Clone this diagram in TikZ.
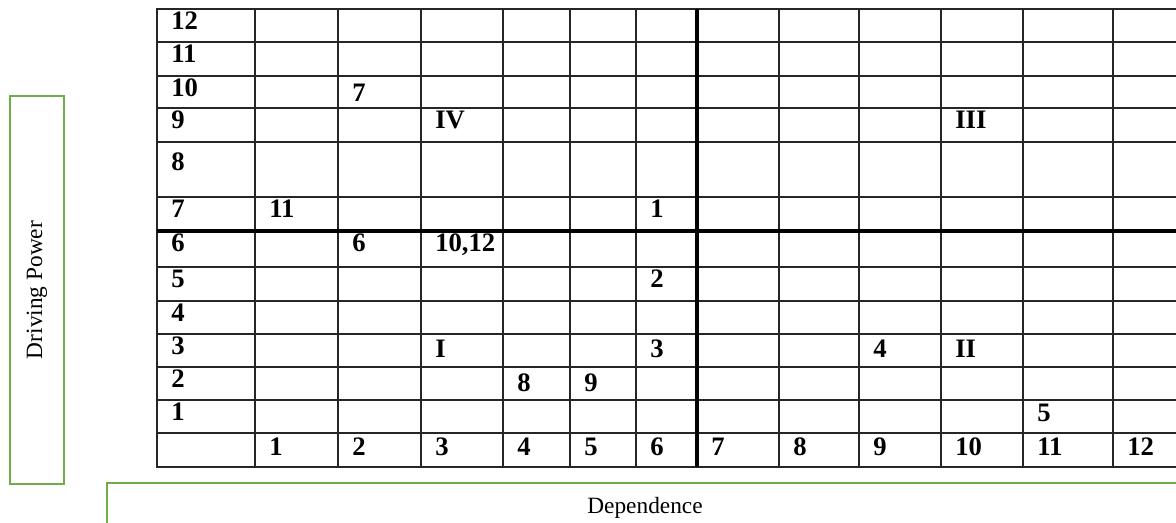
\documentclass[tikz,border=0pt]{standalone}
\usepackage{fontspec}
\setmainfont{Liberation Serif}
\definecolor{boxgreen}{RGB}{112,173,71}
\begin{document}
\begin{tikzpicture}[x=0.75pt,y=-0.75pt,
  thingrid/.style={line width=0.8pt, draw=black!85},
  thickgrid/.style={line width=2.4pt, draw=black},
  outer/.style={line width=1.2pt, draw=black!85},
  cell/.style={anchor=base west, inner sep=0pt, font=\fontsize{20}{20}\selectfont\bfseries},
  greenbox/.style={draw=boxgreen, line width=1.6pt},
  axislabel/.style={inner sep=0pt, font=\fontsize{17.5}{17.5}\selectfont}]
\useasboundingbox (0,0) rectangle (1176,522);
% grid
\foreach \x in {255,338,421,503,570,636,779,859,941,1023,1113}
  \draw[thingrid] (\x,9) -- (\x,467);
\foreach \y in {42,76,108,142,197,267,301,334,367,400,433}
  \draw[thingrid] (157,\y) -- (1200,\y);
\draw[outer] (1200,9) -- (157,9) -- (157,467) -- (1200,467);
\draw[thickgrid] (697,9) -- (697,467);
\draw[thickgrid] (157,231) -- (1200,231);
% row labels
\foreach \lab/\y in {12/9,11/42,10/76,9/108,7/197,6/231,5/267,4/301,3/334,2/367,1/400}
  \node[cell] (r\lab) at (171,\y+20) {\lab};
\node[cell] (r8) at (171,170) {8};
% column labels
\foreach \lab/\x in {1/255,2/338,3/421,4/503,5/570,6/636,7/697,8/779,9/859,10/941,11/1023,12/1113}
  \node[cell] (c\lab) at (\x+14,455) {\lab};
% entries
\node[cell] (e7) at (352,101) {7};
\node[cell] (qIV) at (435,128) {IV};
\node[cell] (qIII) at (955,128) {III};
\node[cell] (e11) at (269,217) {11};
\node[cell] (e1) at (650,217) {1};
\node[cell] (e6) at (352,251) {6};
\node[cell] (e1012) at (435,251) {10,12};
\node[cell] (e2) at (650,287) {2};
\node[cell] (qI) at (435,357) {I};
\node[cell] (e3) at (650,357) {3};
\node[cell] (e4) at (873,357) {4};
\node[cell] (qII) at (955,357) {II};
\node[cell] (e8) at (517,391) {8};
\node[cell] (e9) at (584,391) {9};
\node[cell] (e5) at (1037,421) {5};
% axis boxes
\draw[greenbox] (10,96) rectangle (64,484);
\node[axislabel, rotate=90] (dp) at (37,290) {Driving Power};
\draw[greenbox] (107,540) -- (107,483) -- (1200,483);
\node[axislabel, anchor=base] (dep) at (645,513) {Dependence};
\end{tikzpicture}
\end{document}
